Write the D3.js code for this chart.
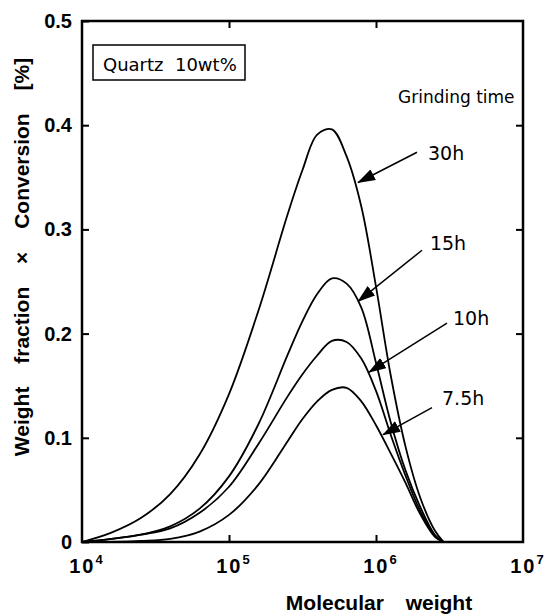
<!DOCTYPE html>
<html>
<head>
<meta charset="utf-8">
<script src="https://d3js.org/d3.v7.min.js"></script>
<style>
  body { margin: 0; background: #fff; }
  svg { display: block; }
  .bold { font-family: "Liberation Sans", Arial, sans-serif; font-weight: bold; }
  .note { font-family: "DejaVu Sans", sans-serif; }
</style>
</head>
<body>
<div id="chart"></div>
<script>
// molecular weight grid (log spaced)
const molWeight = [10000, 15850, 25120, 39810, 63100, 100000, 158500, 251200, 316200, 398100,
                   501200, 631000, 794300, 1000000, 1259000, 1585000, 1995000, 2512000, 2884000];
const series = ["30h", "15h", "10h", "7.5h"];
const v30 = [0.000, 0.009, 0.023, 0.046, 0.084, 0.142, 0.222, 0.315, 0.357, 0.391, 0.396, 0.370, 0.322, 0.245, 0.160, 0.092, 0.043, 0.011, 0.000];
const v15 = [0.000, 0.003, 0.007, 0.015, 0.032, 0.063, 0.113, 0.180, 0.212, 0.238, 0.253, 0.248, 0.225, 0.172, 0.115, 0.069, 0.034, 0.007, 0.000];
const v10 = [0.000, 0.003, 0.007, 0.013, 0.028, 0.053, 0.094, 0.140, 0.161, 0.179, 0.193, 0.192, 0.176, 0.145, 0.103, 0.064, 0.030, 0.006, 0.000];
const v75 = [0.000, 0.000, 0.001, 0.003, 0.010, 0.026, 0.055, 0.097, 0.118, 0.135, 0.146, 0.148, 0.135, 0.112, 0.085, 0.057, 0.027, 0.005, 0.000];
const values = [v30, v15, v10, v75];

// arrow annotations (data coordinates)
const arrowTipM  = [755000, 755000, 896000, 1117000];
const arrowTipV  = [0.345, 0.231, 0.163, 0.103];
const arrowTailM = [1901000, 2056000, 3041000, 2404000];
const arrowTailV = [0.374, 0.280, 0.210, 0.129];
const labelM = [2259000, 2328000, 3342000, 2812000];
const labelV = [0.367, 0.280, 0.208, 0.131];

const xTicks = [1e4, 1e5, 1e6, 1e7];
const xExp = ["4", "5", "6", "7"];
const yTicks = [0, 0.1, 0.2, 0.3, 0.4, 0.5];

const W = 547, H = 616;
const mLeft = 82, mRight = 523, mTop = 21, mBottom = 542;

const svg = d3.select("#chart").append("svg")
    .attr("width", W).attr("height", H);

const x = d3.scaleLog().domain([1e4, 1e7]).range([mLeft, mRight]);
const y = d3.scaleLinear().domain([0, 0.5]).range([mBottom, mTop]);

// ticks (inward)
const inner = [1e5, 1e6];
svg.append("g").attr("transform", `translate(0,${mBottom})`)
    .call(d3.axisBottom(x).tickValues(inner).tickSizeInner(-7).tickSizeOuter(0).tickFormat(""));
svg.append("g").attr("transform", `translate(0,${mTop})`)
    .call(d3.axisTop(x).tickValues(inner).tickSizeInner(-7).tickSizeOuter(0).tickFormat(""));
svg.append("g").attr("transform", `translate(${mLeft},0)`)
    .call(d3.axisLeft(y).tickValues(yTicks).tickSizeInner(-7).tickSizeOuter(0).tickPadding(10)
        .tickFormat(d => d === 0 ? "0" : d3.format(".1f")(d)))
    .call(g => g.selectAll("text").attr("class", "bold").style("font-size", "20px").attr("fill", "#000"));
svg.append("g").attr("transform", `translate(${mRight},0)`)
    .call(d3.axisRight(y).tickValues(yTicks.slice(1, 5)).tickSizeInner(-7).tickSizeOuter(0).tickFormat(""));
svg.selectAll(".domain").remove();
svg.selectAll(".tick line").attr("stroke", "#000").attr("stroke-width", 2);

// frame
svg.append("rect")
    .attr("x", mLeft).attr("y", mTop)
    .attr("width", mRight - mLeft).attr("height", mBottom - mTop)
    .attr("fill", "none").attr("stroke", "#000").attr("stroke-width", 2.5);

// x tick labels 10^n
const xl = svg.append("g").attr("class", "bold");
xTicks.forEach((t, i) => {
  const tx = xl.append("text")
      .attr("x", x(t) + 4).attr("y", 573)
      .attr("text-anchor", "middle")
      .style("font-size", "20px");
  tx.append("tspan").text("10").style("letter-spacing", "2px");
  tx.append("tspan").text(xExp[i]).attr("dy", -9).style("font-size", "13px");
});

// curves
const line = d3.line()
    .x((d, i) => x(molWeight[i]))
    .y(d => y(d))
    .curve(d3.curveCatmullRom.alpha(0.5));
svg.append("g").selectAll("path")
  .data(values)
  .join("path")
    .attr("d", line)
    .attr("fill", "none")
    .attr("stroke", "#000")
    .attr("stroke-width", 1.8);

// arrowheads
svg.append("defs").append("marker")
    .attr("id", "head")
    .attr("markerUnits", "userSpaceOnUse")
    .attr("viewBox", "0 0 18 12")
    .attr("refX", 17).attr("refY", 6)
    .attr("markerWidth", 18).attr("markerHeight", 12)
    .attr("orient", "auto")
  .append("path").attr("d", "M0,0 L18,6 L0,12 Z").attr("fill", "#000");

svg.append("g").selectAll("line")
  .data(series)
  .join("line")
    .attr("x1", (d, i) => x(arrowTailM[i])).attr("y1", (d, i) => y(arrowTailV[i]))
    .attr("x2", (d, i) => x(arrowTipM[i])).attr("y2", (d, i) => y(arrowTipV[i]))
    .attr("stroke", "#000").attr("stroke-width", 1.5)
    .attr("marker-end", "url(#head)");

svg.append("g").attr("class", "note").selectAll("text")
  .data(series)
  .join("text")
    .attr("x", (d, i) => x(labelM[i])).attr("y", (d, i) => y(labelV[i]))
    .style("font-size", "19px")
    .text(d => d);

svg.append("text").attr("class", "note")
    .attr("x", 398).attr("y", 103)
    .style("font-size", "17px")
    .text("Grinding time");

// legend box
svg.append("rect")
    .attr("x", 93).attr("y", 45).attr("width", 152).attr("height", 35)
    .attr("fill", "none").attr("stroke", "#000").attr("stroke-width", 1.5);
svg.append("text").attr("class", "note")
    .attr("x", 103).attr("y", 71)
    .style("font-size", "18px")
    .attr("xml:space", "preserve")
    .text("Quartz  10wt%");

// axis titles
svg.append("text").attr("class", "bold")
    .attr("x", 379).attr("y", 610)
    .attr("text-anchor", "middle")
    .style("font-size", "21px")
    .style("word-spacing", "16px")
    .text("Molecular weight");

svg.append("text").attr("class", "bold")
    .attr("transform", "translate(29,257) rotate(-90)")
    .attr("text-anchor", "middle")
    .style("font-size", "21px")
    .style("word-spacing", "17px")
    .text("Weight fraction × Conversion [%]");
</script>
</body>
</html>
